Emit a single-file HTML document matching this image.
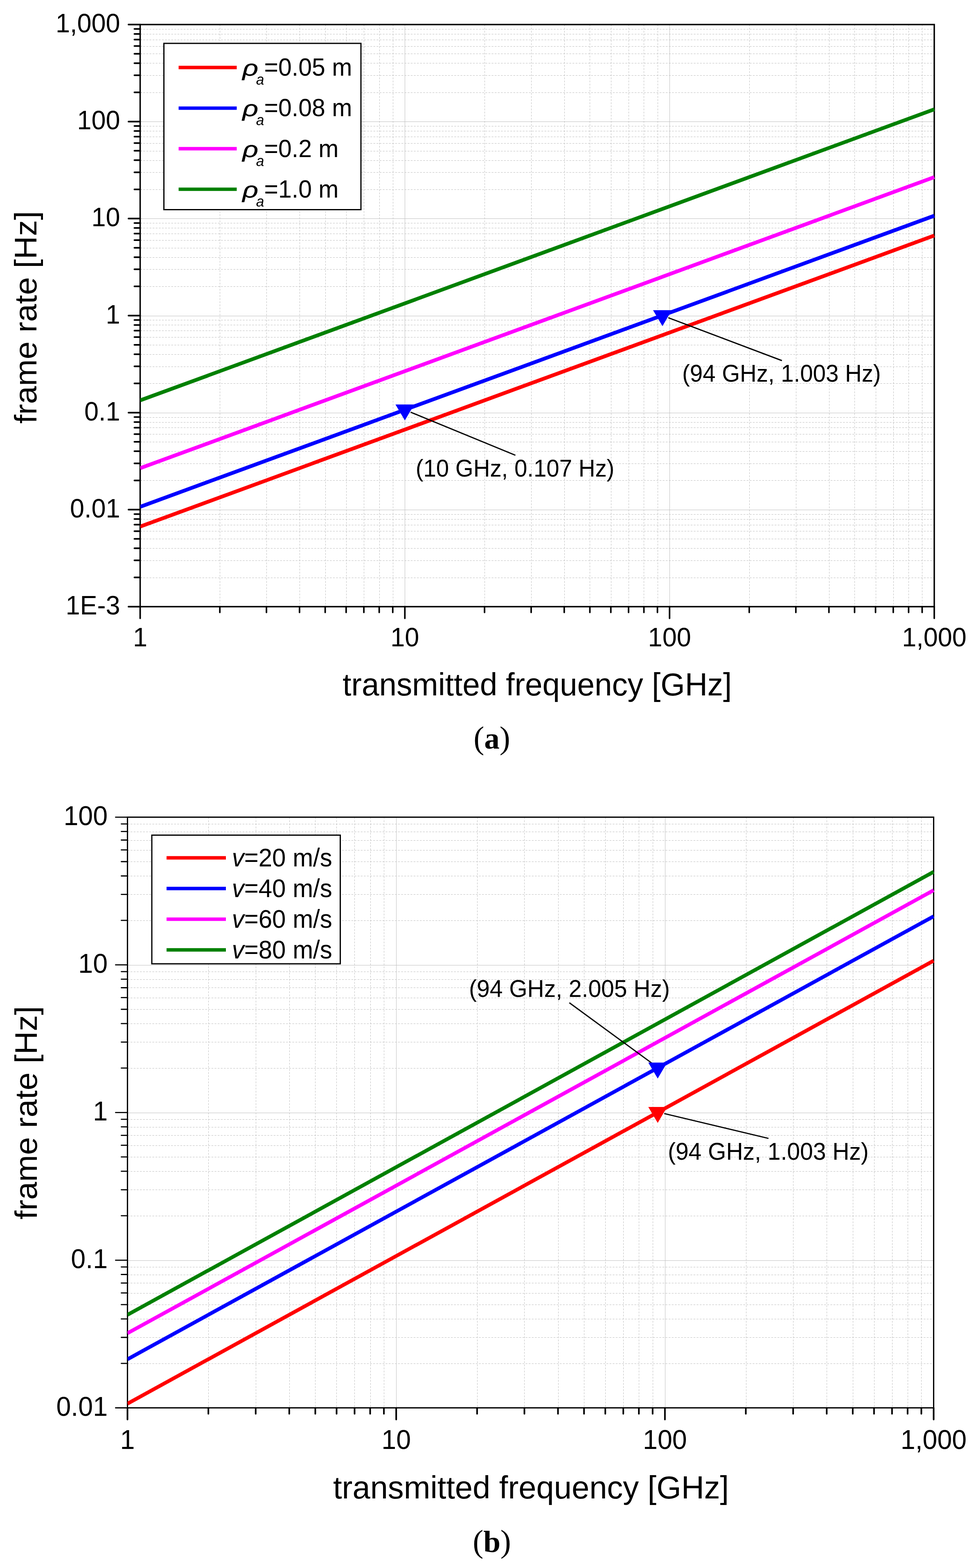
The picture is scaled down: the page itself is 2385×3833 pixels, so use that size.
<!DOCTYPE html>
<html><head><meta charset="utf-8"><title>frame rate vs transmitted frequency</title>
<style>html,body{margin:0;padding:0;background:#fff;overflow:hidden;}svg{display:block;}</style></head>
<body><svg width="2385" height="3833" viewBox="0 0 2385 3833">
<rect width="2385" height="3833" fill="#fff"/>
<path d="M537.5 60.0V1483.0 M651.5 60.0V1483.0 M732.5 60.0V1483.0 M795.5 60.0V1483.0 M846.5 60.0V1483.0 M889.5 60.0V1483.0 M927.5 60.0V1483.0 M960.5 60.0V1483.0 M1184.5 60.0V1483.0 M1298.5 60.0V1483.0 M1379.5 60.0V1483.0 M1441.5 60.0V1483.0 M1493.5 60.0V1483.0 M1536.5 60.0V1483.0 M1573.5 60.0V1483.0 M1607.5 60.0V1483.0 M1831.5 60.0V1483.0 M1945.5 60.0V1483.0 M2026.5 60.0V1483.0 M2088.5 60.0V1483.0 M2140.5 60.0V1483.0 M2183.5 60.0V1483.0 M2220.5 60.0V1483.0 M2253.5 60.0V1483.0 M342.5 1412.5H2283.0 M342.5 1370.5H2283.0 M342.5 1340.5H2283.0 M342.5 1317.5H2283.0 M342.5 1298.5H2283.0 M342.5 1283.5H2283.0 M342.5 1269.5H2283.0 M342.5 1257.5H2283.0 M342.5 1174.5H2283.0 M342.5 1133.5H2283.0 M342.5 1103.5H2283.0 M342.5 1080.5H2283.0 M342.5 1061.5H2283.0 M342.5 1045.5H2283.0 M342.5 1032.5H2283.0 M342.5 1020.5H2283.0 M342.5 937.5H2283.0 M342.5 896.5H2283.0 M342.5 866.5H2283.0 M342.5 843.5H2283.0 M342.5 824.5H2283.0 M342.5 808.5H2283.0 M342.5 794.5H2283.0 M342.5 782.5H2283.0 M342.5 700.5H2283.0 M342.5 658.5H2283.0 M342.5 629.5H2283.0 M342.5 606.5H2283.0 M342.5 587.5H2283.0 M342.5 571.5H2283.0 M342.5 557.5H2283.0 M342.5 545.5H2283.0 M342.5 463.5H2283.0 M342.5 421.5H2283.0 M342.5 392.5H2283.0 M342.5 369.5H2283.0 M342.5 350.5H2283.0 M342.5 334.5H2283.0 M342.5 320.5H2283.0 M342.5 308.5H2283.0 M342.5 226.5H2283.0 M342.5 184.5H2283.0 M342.5 154.5H2283.0 M342.5 131.5H2283.0 M342.5 113.5H2283.0 M342.5 97.5H2283.0 M342.5 83.5H2283.0 M342.5 71.5H2283.0" stroke="#bebebe" stroke-width="1" stroke-dasharray="4.5 3.1" fill="none"/>
<path d="M989.5 60.0V1483.0 M1636.5 60.0V1483.0 M342.5 1246.5H2283.0 M342.5 1009.5H2283.0 M342.5 772.5H2283.0 M342.5 534.5H2283.0 M342.5 297.5H2283.0" stroke="#bebebe" stroke-width="1" fill="none"/>
<rect x="342.5" y="60" width="1940.5" height="1423" fill="none" stroke="#000" stroke-width="3.5"/>
<clipPath id="ca"><rect x="342.5" y="58" width="1942.0" height="1427"/></clipPath>
<line x1="342.50" y1="1287.27" x2="2283.00" y2="575.77" stroke="#ff0000" stroke-width="9.1" clip-path="url(#ca)"/>
<line x1="342.50" y1="1238.86" x2="2283.00" y2="527.36" stroke="#0000ff" stroke-width="9.1" clip-path="url(#ca)"/>
<line x1="342.50" y1="1144.49" x2="2283.00" y2="432.99" stroke="#ff00ff" stroke-width="9.1" clip-path="url(#ca)"/>
<line x1="342.50" y1="978.71" x2="2283.00" y2="267.21" stroke="#008000" stroke-width="9.1" clip-path="url(#ca)"/>
<line x1="1003.5" y1="1007.6" x2="1259.4" y2="1112.8" stroke="#000" stroke-width="3"/>
<line x1="1633" y1="776.7" x2="1910.7" y2="881.5" stroke="#000" stroke-width="3"/>
<path d="M966.33 988.70H1012.33L989.33 1027.70Z" fill="#0000ff"/>
<path d="M1595.78 758.19H1641.78L1618.78 797.19Z" fill="#0000ff"/>
<path d="M342.50 1483.0V1511.6 M989.33 1483.0V1511.6 M1636.17 1483.0V1511.6 M2283.00 1483.0V1511.6 M537.22 1483.0V1497.1 M651.12 1483.0V1497.1 M731.93 1483.0V1497.1 M794.62 1483.0V1497.1 M845.83 1483.0V1497.1 M889.14 1483.0V1497.1 M926.65 1483.0V1497.1 M959.74 1483.0V1497.1 M1184.05 1483.0V1497.1 M1297.95 1483.0V1497.1 M1378.77 1483.0V1497.1 M1441.45 1483.0V1497.1 M1492.67 1483.0V1497.1 M1535.97 1483.0V1497.1 M1573.48 1483.0V1497.1 M1606.57 1483.0V1497.1 M1830.88 1483.0V1497.1 M1944.78 1483.0V1497.1 M2025.60 1483.0V1497.1 M2088.28 1483.0V1497.1 M2139.50 1483.0V1497.1 M2182.80 1483.0V1497.1 M2220.32 1483.0V1497.1 M2253.40 1483.0V1497.1" stroke="#000" stroke-width="3.8" stroke-linecap="round" fill="none"/>
<path d="M342.5 1483.00H314.0 M342.5 1245.83H314.0 M342.5 1008.67H314.0 M342.5 771.50H314.0 M342.5 534.33H314.0 M342.5 297.17H314.0 M342.5 60.00H314.0 M342.5 1411.61H328.5 M342.5 1369.84H328.5 M342.5 1340.21H328.5 M342.5 1317.23H328.5 M342.5 1298.45H328.5 M342.5 1282.57H328.5 M342.5 1268.82H328.5 M342.5 1256.69H328.5 M342.5 1174.44H328.5 M342.5 1132.68H328.5 M342.5 1103.04H328.5 M342.5 1080.06H328.5 M342.5 1061.28H328.5 M342.5 1045.40H328.5 M342.5 1031.65H328.5 M342.5 1019.52H328.5 M342.5 937.27H328.5 M342.5 895.51H328.5 M342.5 865.88H328.5 M342.5 842.89H328.5 M342.5 824.12H328.5 M342.5 808.24H328.5 M342.5 794.48H328.5 M342.5 782.35H328.5 M342.5 700.11H328.5 M342.5 658.34H328.5 M342.5 628.71H328.5 M342.5 605.73H328.5 M342.5 586.95H328.5 M342.5 571.07H328.5 M342.5 557.32H328.5 M342.5 545.19H328.5 M342.5 462.94H328.5 M342.5 421.18H328.5 M342.5 391.54H328.5 M342.5 368.56H328.5 M342.5 349.78H328.5 M342.5 333.90H328.5 M342.5 320.15H328.5 M342.5 308.02H328.5 M342.5 225.77H328.5 M342.5 184.01H328.5 M342.5 154.38H328.5 M342.5 131.39H328.5 M342.5 112.62H328.5 M342.5 96.74H328.5 M342.5 82.98H328.5 M342.5 70.85H328.5" stroke="#000" stroke-width="4" stroke-linecap="round" fill="none"/>
<rect x="400.5" y="106" width="481.5" height="406.5" fill="#fff" stroke="#000" stroke-width="3"/>
<line x1="436.5" y1="165" x2="578.5" y2="165" stroke="#ff0000" stroke-width="8.3"/>
<text transform="translate(592.5 185) scale(1.14 0.9)" font-family="Liberation Sans, Arial, sans-serif" font-size="59" font-style="italic" stroke="#000" stroke-width="0.6">ρ</text><text transform="translate(625.80 185) scale(1 1.04)" font-family="Liberation Sans, Arial, sans-serif" font-size="59"><tspan font-style="italic" font-size="35.4" dy="21.2">a</tspan><tspan dy="-21.2">=0.05 m</tspan></text>
<line x1="436.5" y1="264.3" x2="578.5" y2="264.3" stroke="#0000ff" stroke-width="8.3"/>
<text transform="translate(592.5 284.3) scale(1.14 0.9)" font-family="Liberation Sans, Arial, sans-serif" font-size="59" font-style="italic" stroke="#000" stroke-width="0.6">ρ</text><text transform="translate(625.80 284.3) scale(1 1.04)" font-family="Liberation Sans, Arial, sans-serif" font-size="59"><tspan font-style="italic" font-size="35.4" dy="21.2">a</tspan><tspan dy="-21.2">=0.08 m</tspan></text>
<line x1="436.5" y1="363.5" x2="578.5" y2="363.5" stroke="#ff00ff" stroke-width="8.3"/>
<text transform="translate(592.5 383.5) scale(1.14 0.9)" font-family="Liberation Sans, Arial, sans-serif" font-size="59" font-style="italic" stroke="#000" stroke-width="0.6">ρ</text><text transform="translate(625.80 383.5) scale(1 1.04)" font-family="Liberation Sans, Arial, sans-serif" font-size="59"><tspan font-style="italic" font-size="35.4" dy="21.2">a</tspan><tspan dy="-21.2">=0.2 m</tspan></text>
<line x1="436.5" y1="462.7" x2="578.5" y2="462.7" stroke="#008000" stroke-width="8.3"/>
<text transform="translate(592.5 482.7) scale(1.14 0.9)" font-family="Liberation Sans, Arial, sans-serif" font-size="59" font-style="italic" stroke="#000" stroke-width="0.6">ρ</text><text transform="translate(625.80 482.7) scale(1 1.04)" font-family="Liberation Sans, Arial, sans-serif" font-size="59"><tspan font-style="italic" font-size="35.4" dy="21.2">a</tspan><tspan dy="-21.2">=1.0 m</tspan></text>
<text transform="translate(293.60 79.00) scale(1 1.04)" font-family="Liberation Sans, Arial, sans-serif" text-anchor="end" font-size="63">1,000</text>
<text transform="translate(293.60 316.17) scale(1 1.04)" font-family="Liberation Sans, Arial, sans-serif" text-anchor="end" font-size="63">100</text>
<text transform="translate(293.60 553.33) scale(1 1.04)" font-family="Liberation Sans, Arial, sans-serif" text-anchor="end" font-size="63">10</text>
<text transform="translate(293.60 790.50) scale(1 1.04)" font-family="Liberation Sans, Arial, sans-serif" text-anchor="end" font-size="63">1</text>
<text transform="translate(293.60 1027.67) scale(1 1.04)" font-family="Liberation Sans, Arial, sans-serif" text-anchor="end" font-size="63">0.1</text>
<text transform="translate(293.60 1264.83) scale(1 1.04)" font-family="Liberation Sans, Arial, sans-serif" text-anchor="end" font-size="63">0.01</text>
<text transform="translate(293.60 1502.00) scale(1 1.04)" font-family="Liberation Sans, Arial, sans-serif" text-anchor="end" font-size="63">1E-3</text>
<text transform="translate(342.50 1580.00) scale(1 1.04)" font-family="Liberation Sans, Arial, sans-serif" text-anchor="middle" font-size="63">1</text>
<text transform="translate(989.33 1580.00) scale(1 1.04)" font-family="Liberation Sans, Arial, sans-serif" text-anchor="middle" font-size="63">10</text>
<text transform="translate(1636.17 1580.00) scale(1 1.04)" font-family="Liberation Sans, Arial, sans-serif" text-anchor="middle" font-size="63">100</text>
<text transform="translate(2283.00 1580.00) scale(1 1.04)" font-family="Liberation Sans, Arial, sans-serif" text-anchor="middle" font-size="63">1,000</text>
<text transform="translate(1015.70 1165.00) scale(1 1.04)" font-family="Liberation Sans, Arial, sans-serif" font-size="56.4">(10 GHz, 0.107 Hz)</text>
<text transform="translate(1667.00 933.00) scale(1 1.04)" font-family="Liberation Sans, Arial, sans-serif" font-size="56.4">(94 GHz, 1.003 Hz)</text>
<text transform="translate(837.30 1700.00) scale(1 1.01)" font-family="Liberation Sans, Arial, sans-serif" font-size="76.4">transmitted frequency [GHz]</text>
<text transform="translate(89 1035.5) rotate(-90) scale(1 0.97)" font-family="Liberation Sans, Arial, sans-serif" font-size="78.6">frame rate [Hz]</text>
<text x="1202" y="1830" text-anchor="middle" font-family="Liberation Serif, Times New Roman, serif" font-size="78.0">(<tspan font-weight="bold" font-size="75">a</tspan>)</text>
<path d="M509.5 1997.6V3441.5 M625.5 1997.6V3441.5 M707.5 1997.6V3441.5 M770.5 1997.6V3441.5 M822.5 1997.6V3441.5 M866.5 1997.6V3441.5 M905.5 1997.6V3441.5 M938.5 1997.6V3441.5 M1166.5 1997.6V3441.5 M1281.5 1997.6V3441.5 M1364.5 1997.6V3441.5 M1427.5 1997.6V3441.5 M1479.5 1997.6V3441.5 M1523.5 1997.6V3441.5 M1561.5 1997.6V3441.5 M1595.5 1997.6V3441.5 M1823.5 1997.6V3441.5 M1938.5 1997.6V3441.5 M2020.5 1997.6V3441.5 M2084.5 1997.6V3441.5 M2136.5 1997.6V3441.5 M2180.5 1997.6V3441.5 M2218.5 1997.6V3441.5 M2251.5 1997.6V3441.5 M311.5 3333.5H2281.5 M311.5 3269.5H2281.5 M311.5 3224.5H2281.5 M311.5 3189.5H2281.5 M311.5 3161.5H2281.5 M311.5 3136.5H2281.5 M311.5 3116.5H2281.5 M311.5 3097.5H2281.5 M311.5 2972.5H2281.5 M311.5 2908.5H2281.5 M311.5 2863.5H2281.5 M311.5 2828.5H2281.5 M311.5 2800.5H2281.5 M311.5 2775.5H2281.5 M311.5 2755.5H2281.5 M311.5 2736.5H2281.5 M311.5 2611.5H2281.5 M311.5 2547.5H2281.5 M311.5 2502.5H2281.5 M311.5 2467.5H2281.5 M311.5 2439.5H2281.5 M311.5 2414.5H2281.5 M311.5 2394.5H2281.5 M311.5 2375.5H2281.5 M311.5 2250.5H2281.5 M311.5 2186.5H2281.5 M311.5 2141.5H2281.5 M311.5 2106.5H2281.5 M311.5 2078.5H2281.5 M311.5 2054.5H2281.5 M311.5 2033.5H2281.5 M311.5 2014.5H2281.5" stroke="#bebebe" stroke-width="1" stroke-dasharray="4.5 3.1" fill="none"/>
<path d="M968.5 1997.6V3441.5 M1625.5 1997.6V3441.5 M311.5 3081.5H2281.5 M311.5 2720.5H2281.5 M311.5 2359.5H2281.5" stroke="#bebebe" stroke-width="1" fill="none"/>
<rect x="311.5" y="1997.6" width="1970.0" height="1443.9" fill="none" stroke="#000" stroke-width="3.1"/>
<clipPath id="cb"><rect x="311.5" y="1995.6" width="1971.5" height="1447.9"/></clipPath>
<line x1="311.50" y1="3431.33" x2="2281.50" y2="2348.41" stroke="#ff0000" stroke-width="9" clip-path="url(#cb)"/>
<line x1="311.50" y1="3322.74" x2="2281.50" y2="2239.82" stroke="#0000ff" stroke-width="9" clip-path="url(#cb)"/>
<line x1="311.50" y1="3259.15" x2="2281.50" y2="2176.23" stroke="#ff00ff" stroke-width="9" clip-path="url(#cb)"/>
<line x1="311.50" y1="3214.04" x2="2281.50" y2="2131.12" stroke="#008000" stroke-width="9" clip-path="url(#cb)"/>
<line x1="1391.3" y1="2451.2" x2="1593.5" y2="2599.4" stroke="#000" stroke-width="3"/>
<line x1="1623.2" y1="2722.1" x2="1877.9" y2="2782.9" stroke="#000" stroke-width="3"/>
<path d="M1584.19 2597.49H1630.19L1607.19 2636.49Z" fill="#0000ff"/>
<path d="M1584.19 2706.08H1630.19L1607.19 2745.08Z" fill="#ff0000"/>
<path d="M311.50 3441.5V3470.0 M968.17 3441.5V3470.0 M1624.83 3441.5V3470.0 M2281.50 3441.5V3470.0 M509.18 3441.5V3456.0 M624.81 3441.5V3456.0 M706.85 3441.5V3456.0 M770.49 3441.5V3456.0 M822.49 3441.5V3456.0 M866.45 3441.5V3456.0 M904.53 3441.5V3456.0 M938.12 3441.5V3456.0 M1165.84 3441.5V3456.0 M1281.48 3441.5V3456.0 M1363.52 3441.5V3456.0 M1427.16 3441.5V3456.0 M1479.15 3441.5V3456.0 M1523.11 3441.5V3456.0 M1561.20 3441.5V3456.0 M1594.79 3441.5V3456.0 M1822.51 3441.5V3456.0 M1938.14 3441.5V3456.0 M2020.19 3441.5V3456.0 M2083.82 3441.5V3456.0 M2135.82 3441.5V3456.0 M2179.78 3441.5V3456.0 M2217.86 3441.5V3456.0 M2251.45 3441.5V3456.0" stroke="#000" stroke-width="4" stroke-linecap="round" fill="none"/>
<path d="M311.5 3441.50H282.4 M311.5 3080.53H282.4 M311.5 2719.55H282.4 M311.5 2358.57H282.4 M311.5 1997.60H282.4 M311.5 3332.84H296.4 M311.5 3269.27H296.4 M311.5 3224.17H296.4 M311.5 3189.19H296.4 M311.5 3160.61H296.4 M311.5 3136.44H296.4 M311.5 3115.51H296.4 M311.5 3097.04H296.4 M311.5 2971.86H296.4 M311.5 2908.30H296.4 M311.5 2863.20H296.4 M311.5 2828.21H296.4 M311.5 2799.63H296.4 M311.5 2775.47H296.4 M311.5 2754.53H296.4 M311.5 2736.07H296.4 M311.5 2610.89H296.4 M311.5 2547.32H296.4 M311.5 2502.22H296.4 M311.5 2467.24H296.4 M311.5 2438.66H296.4 M311.5 2414.49H296.4 M311.5 2393.56H296.4 M311.5 2375.09H296.4 M311.5 2249.91H296.4 M311.5 2186.35H296.4 M311.5 2141.25H296.4 M311.5 2106.26H296.4 M311.5 2077.68H296.4 M311.5 2053.52H296.4 M311.5 2032.58H296.4 M311.5 2014.12H296.4" stroke="#000" stroke-width="2.8" stroke-linecap="round" fill="none"/>
<rect x="371" y="2041.5" width="460.5" height="314.5" fill="#fff" stroke="#000" stroke-width="3"/>
<line x1="407" y1="2097" x2="552" y2="2097" stroke="#ff0000" stroke-width="8.3"/>
<text transform="translate(566.7 2118) scale(1 1.04)" font-family="Liberation Sans, Arial, sans-serif" font-size="60"><tspan font-style="italic">v</tspan>=20 m/s</text>
<line x1="407" y1="2172" x2="552" y2="2172" stroke="#0000ff" stroke-width="8.3"/>
<text transform="translate(566.7 2193) scale(1 1.04)" font-family="Liberation Sans, Arial, sans-serif" font-size="60"><tspan font-style="italic">v</tspan>=40 m/s</text>
<line x1="407" y1="2247" x2="552" y2="2247" stroke="#ff00ff" stroke-width="8.3"/>
<text transform="translate(566.7 2268) scale(1 1.04)" font-family="Liberation Sans, Arial, sans-serif" font-size="60"><tspan font-style="italic">v</tspan>=60 m/s</text>
<line x1="407" y1="2322" x2="552" y2="2322" stroke="#008000" stroke-width="8.3"/>
<text transform="translate(566.7 2343) scale(1 1.04)" font-family="Liberation Sans, Arial, sans-serif" font-size="60"><tspan font-style="italic">v</tspan>=80 m/s</text>
<text transform="translate(263.00 2017.00) scale(1 1.04)" font-family="Liberation Sans, Arial, sans-serif" text-anchor="end" font-size="64.5">100</text>
<text transform="translate(263.00 2377.97) scale(1 1.04)" font-family="Liberation Sans, Arial, sans-serif" text-anchor="end" font-size="64.5">10</text>
<text transform="translate(263.00 2738.95) scale(1 1.04)" font-family="Liberation Sans, Arial, sans-serif" text-anchor="end" font-size="64.5">1</text>
<text transform="translate(263.00 3099.93) scale(1 1.04)" font-family="Liberation Sans, Arial, sans-serif" text-anchor="end" font-size="64.5">0.1</text>
<text transform="translate(263.00 3460.90) scale(1 1.04)" font-family="Liberation Sans, Arial, sans-serif" text-anchor="end" font-size="64.5">0.01</text>
<text transform="translate(311.50 3541.80) scale(1 1.04)" font-family="Liberation Sans, Arial, sans-serif" text-anchor="middle" font-size="64.5">1</text>
<text transform="translate(968.17 3541.80) scale(1 1.04)" font-family="Liberation Sans, Arial, sans-serif" text-anchor="middle" font-size="64.5">10</text>
<text transform="translate(1624.83 3541.80) scale(1 1.04)" font-family="Liberation Sans, Arial, sans-serif" text-anchor="middle" font-size="64.5">100</text>
<text transform="translate(2281.50 3541.80) scale(1 1.04)" font-family="Liberation Sans, Arial, sans-serif" text-anchor="middle" font-size="64.5">1,000</text>
<text transform="translate(1146.00 2436.90) scale(1 1.04)" font-family="Liberation Sans, Arial, sans-serif" font-size="57">(94 GHz, 2.005 Hz)</text>
<text transform="translate(1631.90 2834.80) scale(1 1.04)" font-family="Liberation Sans, Arial, sans-serif" font-size="57">(94 GHz, 1.003 Hz)</text>
<text transform="translate(814.00 3663.00) scale(1 1.01)" font-family="Liberation Sans, Arial, sans-serif" font-size="77.7">transmitted frequency [GHz]</text>
<text transform="translate(89.7 2981) rotate(-90) scale(1 0.97)" font-family="Liberation Sans, Arial, sans-serif" font-size="78.9">frame rate [Hz]</text>
<text x="1202" y="3794" text-anchor="middle" font-family="Liberation Serif, Times New Roman, serif" font-size="78.0">(<tspan font-weight="bold" font-size="75">b</tspan>)</text>
</svg></body></html>
